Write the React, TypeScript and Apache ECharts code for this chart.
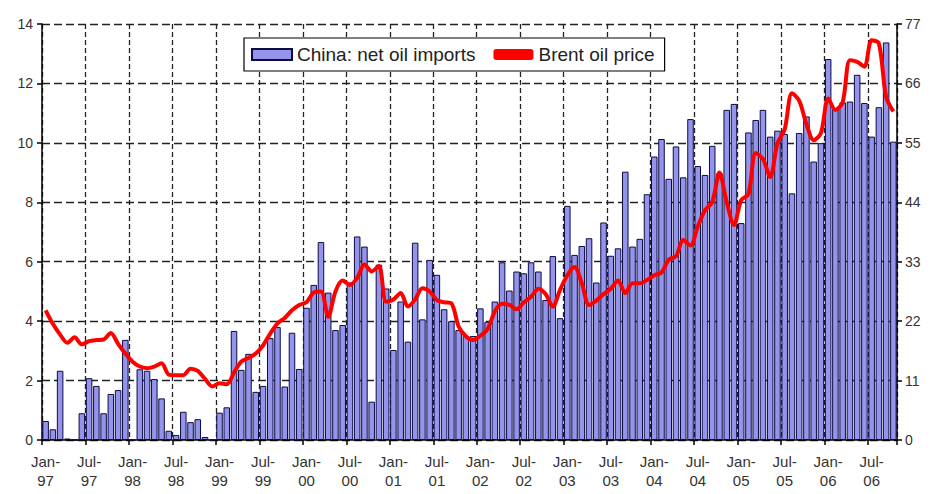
import React, { useEffect, useRef } from "react";
import * as echarts from "echarts";

const monthNames = ["Jan", "Feb", "Mar", "Apr", "May", "Jun", "Jul", "Aug", "Sep", "Oct", "Nov", "Dec"];
const years = ["97", "98", "99", "00", "01", "02", "03", "04", "05", "06"];
const lastYearMonths = 10;

// China: net oil imports (left axis)
const imports: number[] = [
  0.64, 0.36, 2.33, 0.05, 0, 0.9, 2.08, 1.82, 0.9, 1.55, 1.68, 3.37,
  0, 2.38, 2.33, 2.05, 1.4, 0.31, 0.17, 0.95, 0.6, 0.7, 0.1, 0,
  0.92, 1.1, 3.67, 2.36, 2.9, 1.62, 1.82, 3.43, 3.8, 1.8, 3.61, 2.39,
  4.45, 5.22, 6.66, 4.96, 3.7, 3.87, 5.3, 6.85, 6.51, 1.29, 5.9, 5.1,
  3.03, 4.66, 3.31, 6.64, 4.06, 6.06, 5.56, 4.4, 4.0, 3.7, 3.5, 3.5,
  4.43, 3.98, 4.66, 5.98, 5.03, 5.67, 5.61, 5.98, 5.67, 4.71, 6.19, 4.1,
  7.88, 6.23, 6.53, 6.79, 5.3, 7.32, 6.2, 6.45, 9.03, 6.51, 6.77, 8.27,
  9.54, 10.13, 8.79, 9.88, 8.84, 10.8, 9.22, 8.92, 9.9, 8.98, 11.11, 11.31,
  7.3, 10.35, 10.77, 11.11, 10.21, 10.41, 10.3, 8.3, 10.33, 10.89, 9.37, 9.99,
  12.82, 11.13, 11.36, 11.39, 12.29, 11.34, 10.21, 11.2, 13.38, 10.04,
];

// Brent oil price (right axis)
const brent: number[] = [
  24.0, 21.5, 19.5, 18.0, 19.0, 17.7, 18.3, 18.5, 18.6, 19.8, 17.8, 16.0,
  14.5, 13.6, 13.3, 13.6, 14.2, 12.1, 12.0, 12.0, 13.2, 12.8, 11.3, 9.9,
  10.5, 10.3, 12.5, 14.5, 15.2, 16.0, 17.5, 19.7, 21.6, 22.6, 24.0, 25.0,
  25.5, 27.3, 27.5, 22.8, 27.5, 29.5, 28.7, 30.0, 32.5, 31.2, 32.2, 25.6,
  26.0, 27.2, 24.7, 26.0, 28.1, 27.5, 25.9, 25.5, 25.3, 21.0, 19.2, 18.5,
  19.3, 20.5, 23.8, 25.2, 25.0, 24.2, 25.5, 26.5, 28.0, 27.0, 24.7, 27.8,
  30.5, 32.0, 29.0, 25.0, 25.8, 27.0, 28.0, 29.5, 27.2, 29.0, 29.0, 29.6,
  30.5, 31.0, 33.4, 34.0, 37.0, 36.0, 39.5, 42.5, 44.0, 49.5, 44.0, 39.8,
  44.4, 45.5, 53.1, 52.0, 48.7, 54.9, 57.5, 64.2, 62.8, 58.5, 55.5, 56.8,
  63.2, 61.1, 62.5, 70.3, 70.0, 69.1, 74.0, 73.4, 63.5, 60.8,
];

const categories: string[] = [];
years.forEach((y, yi) => {
  const n = yi === years.length - 1 ? lastYearMonths : 12;
  for (let m = 0; m < n; m++) categories.push(monthNames[m] + "-" + y);
});

const FONT = "'Liberation Sans', Arial, sans-serif";

export default function App() {
  const ref = useRef<HTMLDivElement>(null);
  useEffect(() => {
    if (!ref.current) return;
    const chart = echarts.init(ref.current, null, { renderer: "svg" });
    const every6 = (i: number) => i % 6 === 0;
    chart.setOption({
      animation: false,
      backgroundColor: "#ffffff",
      textStyle: { fontFamily: FONT },
      grid: { left: 42, right: 34, top: 24, bottom: 54, containLabel: false },
      legend: {
        left: 244,
        top: 38,
        padding: [7, 10, 7, 7],
        itemGap: 18,
        itemWidth: 40,
        itemHeight: 11,
        borderColor: "#000",
        borderWidth: 1.2,
        backgroundColor: "#fff",
        textStyle: { fontFamily: FONT, fontSize: 19, color: "#222" },
        data: [
          { name: "China: net oil imports", icon: "rect" },
          { name: "Brent oil price", icon: "roundRect", itemStyle: { color: "#ff0000", borderWidth: 0 } },
        ],
      },
      xAxis: {
        type: "category",
        data: categories,
        boundaryGap: true,
        axisLine: { show: true, lineStyle: { color: "#000", width: 1.5 } },
        axisTick: { show: true, interval: every6, length: 5, lineStyle: { color: "#000", width: 1.5 } },
        axisLabel: {
          interval: every6,
          formatter: (v: string) => v.replace("-", "-\n"),
          fontFamily: FONT,
          fontSize: 15,
          lineHeight: 19,
          color: "#333",
          margin: 12,
        },
        splitLine: {
          show: true,
          interval: every6,
          lineStyle: { color: "#222", width: 1.3, type: [5, 3] },
        },
      },
      yAxis: [
        {
          type: "value",
          min: 0,
          max: 14,
          interval: 2,
          axisLine: { show: true, lineStyle: { color: "#000", width: 1.5 } },
          axisTick: { show: true, length: 5, lineStyle: { color: "#000", width: 1.5 } },
          axisLabel: { fontFamily: FONT, fontSize: 14, color: "#333", margin: 9 },
          splitLine: { show: true, lineStyle: { color: "#222", width: 1.3, type: [8, 4] } },
        },
        {
          type: "value",
          min: 0,
          max: 77,
          interval: 11,
          position: "right",
          axisLine: { show: true, lineStyle: { color: "#000", width: 1.5 } },
          axisTick: { show: true, length: 5, lineStyle: { color: "#000", width: 1.5 } },
          axisLabel: { fontFamily: FONT, fontSize: 14, color: "#333", margin: 8 },
          splitLine: { show: false },
        },
      ],
      series: [
        {
          name: "China: net oil imports",
          type: "bar",
          yAxisIndex: 0,
          data: imports,
          barCategoryGap: "10%",
          itemStyle: { color: "#9494ec", borderColor: "#0c0c40", borderWidth: 1 },
        },
        {
          name: "Brent oil price",
          type: "line",
          yAxisIndex: 1,
          data: brent,
          smooth: 0.3,
          showSymbol: false,
          symbol: "none",
          lineStyle: { color: "#ff0000", width: 4 },
          itemStyle: { color: "#ff0000" },
          z: 5,
        },
      ],
    });
    return () => chart.dispose();
  }, []);
  return (
    <div
      ref={ref}
      style={{ position: "fixed", left: 0, top: 0, width: 931, height: 494, background: "#fff" }}
    />
  );
}
